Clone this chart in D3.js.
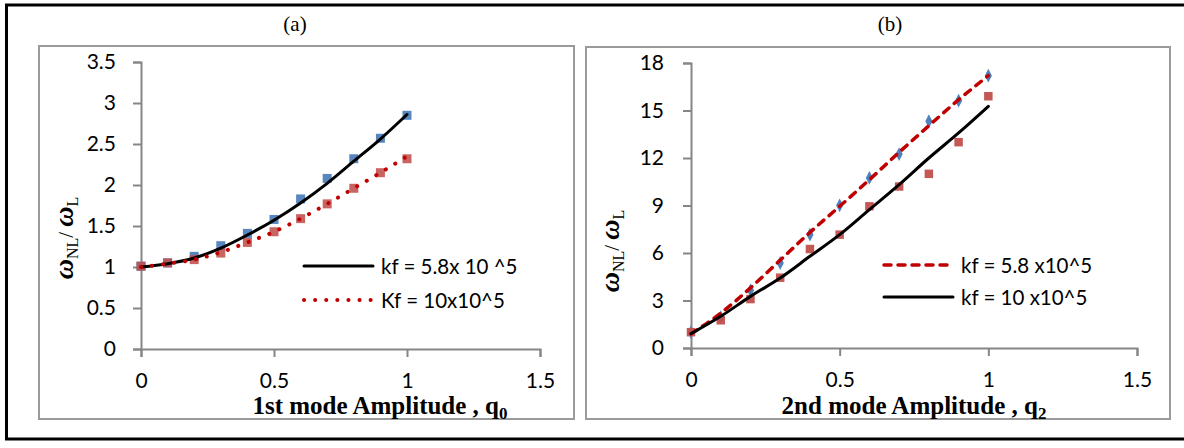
<!DOCTYPE html>
<meta charset="utf-8">
<html>
<head>
<script src="https://d3js.org/d3.v7.min.js"></script>
<style>
  body { margin: 0; background: #fff; }
  .tick-lab { font-family: Lato, "Open Sans", sans-serif; font-size: 21px; fill: #000; }
  .leg { font-family: Lato, "Open Sans", sans-serif; font-size: 20.5px; fill: #000; }
  .ttl { font-family: "Liberation Serif", "Times New Roman", serif; font-size: 21px; fill: #000; }
  .xlab { font-family: "Liberation Serif", "Times New Roman", serif; font-size: 25px; font-weight: bold; fill: #000; }
  .ylab { font-family: "Liberation Serif", "Times New Roman", serif; fill: #000; }
</style>
</head>
<body>
<div id="chart"></div>
<script>

// amplitudes (x values) shared by both panels
var amp = [0, 0.1, 0.2, 0.3, 0.4, 0.5, 0.6, 0.7, 0.8, 0.9, 1.0];
var xTicks = [0, 0.5, 1, 1.5];

// panel (a) - 1st mode
var aTicksY = [0, 0.5, 1, 1.5, 2, 2.5, 3, 3.5];
var aBlue = [1.01, 1.05, 1.13, 1.26, 1.41, 1.58, 1.83, 2.08, 2.32, 2.57, 2.85];
var aRed  = [1.01, 1.05, 1.09, 1.17, 1.30, 1.43, 1.59, 1.77, 1.96, 2.15, 2.32];
var aFitSolid  = [1.00, 1.04, 1.11, 1.23, 1.39, 1.57, 1.78, 2.02, 2.29, 2.56, 2.86];
var aFitDotted = [1.00, 1.04, 1.09, 1.18, 1.30, 1.43, 1.59, 1.77, 1.96, 2.15, 2.35];

// panel (b) - 2nd mode
var bTicksY = [0, 3, 6, 9, 12, 15, 18];
var bBlue = [1.0, 1.95, 3.64, 5.37, 7.16, 9.01, 10.74, 12.25, 14.32, 15.62, 17.2];
var bRed  = [1.0, 1.75, 3.09, 4.44, 6.25, 7.16, 8.95, 10.2, 11.0, 13.0, 15.9];
var bFitDashed = [0.9, 2.2, 3.8, 5.55, 7.3, 8.95, 10.63, 12.36, 14.04, 15.68, 17.2];
var bFitSolid  = [0.9, 2.0, 3.26, 4.42, 5.79, 7.16, 8.74, 10.32, 12.0, 13.58, 15.26];

var W = 1184, H = 448;
var svg = d3.select("#chart").append("svg").attr("width", W).attr("height", H);

var axisCol = "#868686";
var blue = "#4F81BD", redMk = "#C0504D", redLn = "#C00000";

// outer frame
svg.append("rect").attr("x", 6.5).attr("y", 5).attr("width", 1185).attr("height", 434)
  .attr("fill", "none").attr("stroke", "#000").attr("stroke-width", 3);

function panel(cfg) {
  var g = svg.append("g");
  g.append("rect").attr("x", cfg.box[0]).attr("y", cfg.box[1])
    .attr("width", cfg.box[2] - cfg.box[0]).attr("height", cfg.box[3] - cfg.box[1])
    .attr("fill", "none").attr("stroke", "#9a9a9a").attr("stroke-width", 2);

  var x = d3.scaleLinear().domain([0, 1.5]).range(cfg.xr);
  var y = d3.scaleLinear().domain(cfg.yd).range(cfg.yr);

  var ax = g.append("g").attr("transform", "translate(0," + cfg.yr[0] + ")")
    .call(d3.axisBottom(x).tickValues(xTicks).tickSize(8).tickPadding(16).tickFormat(d3.format("")));
  var ay = g.append("g").attr("transform", "translate(" + cfg.xr[0] + ",0)")
    .call(d3.axisLeft(y).tickValues(cfg.ticksY).tickSize(8).tickPadding(cfg.pad).tickFormat(d3.format("")));
  [ax, ay].forEach(function(a) {
    a.attr("font-size", null).attr("font-family", null);
    a.select(".domain").attr("stroke", axisCol).attr("stroke-width", 2);
    a.selectAll(".tick line").attr("stroke", axisCol).attr("stroke-width", 2);
    a.selectAll(".tick text").attr("class", "tick-lab");
  });

  // markers
  cfg.markers.forEach(function(m) {
    var pts = amp.map(function(a, i) { return [a, m.vals[i]]; });
    var sym = d3.symbol().type(m.shape).size(m.size);
    g.selectAll(null).data(pts).enter().append("path")
      .attr("d", sym)
      .attr("transform", function(d) {
        return "translate(" + x(d[0]) + "," + y(d[1]) + ")" + (m.shape === d3.symbolDiamond ? " scale(0.9,1)" : "");
      })
      .attr("fill", m.color).attr("fill-opacity", m.op);
  });

  // fitted curves
  var line = d3.line().x(function(d) { return x(d[0]); }).y(function(d) { return y(d[1]); })
    .curve(d3.curveMonotoneX);
  cfg.lines.forEach(function(l) {
    var pts = amp.map(function(a, i) { return [a, l.vals[i]]; });
    var p = g.append("path").datum(pts).attr("d", line).attr("fill", "none")
      .attr("stroke", l.color).attr("stroke-width", l.w).attr("stroke-linecap", "round");
    if (l.dash) p.attr("stroke-dasharray", l.dash);
  });

  // legend
  cfg.lines.forEach(function(l, i) {
    var ly = cfg.leg[1] + i * cfg.legGap;
    var s = g.append("line").attr("x1", cfg.leg[0]).attr("x2", cfg.leg[0] + 69)
      .attr("y1", ly).attr("y2", ly)
      .attr("stroke", l.color).attr("stroke-width", l.w).attr("stroke-linecap", "round");
    if (l.dash) s.attr("stroke-dasharray", l.dash);
    g.append("text").attr("class", "leg").attr("x", cfg.leg[0] + 77).attr("y", ly + 7.5).text(l.name);
  });

  // title
  g.append("text").attr("class", "ttl").attr("x", cfg.title[0]).attr("y", cfg.title[1])
    .attr("text-anchor", "middle").text(cfg.titleText);

  // x label
  var xl = g.append("text").attr("class", "xlab").attr("x", cfg.xlab[0]).attr("y", cfg.xlab[1])
    .attr("text-anchor", "middle");
  xl.append("tspan").text(cfg.xlabText);
  xl.append("tspan").attr("font-size", "17px").attr("dy", 5).text(cfg.xsub);

  // y label
  var yl = g.append("text").attr("class", "ylab")
    .attr("transform", "translate(" + cfg.ylab[0] + "," + cfg.ylab[1] + ") rotate(-90)")
    .attr("text-anchor", "middle");
  yl.append("tspan").attr("font-size", "28px").attr("font-weight", "bold").attr("font-style", "italic").text("\u03c9");
  yl.append("tspan").attr("font-size", "16px").attr("dy", 5).text("NL");
  yl.append("tspan").attr("font-size", "21px").attr("dy", -5).text("/ ");
  yl.append("tspan").attr("font-size", "28px").attr("font-weight", "bold").attr("font-style", "italic").text("\u03c9");
  yl.append("tspan").attr("font-size", "16px").attr("dy", 5).text("L");
}

panel({
  box: [39, 46, 574, 419],
  xr: [141, 540], yd: [0, 3.5], yr: [349, 62],
  ticksY: aTicksY, pad: 17,
  markers: [
    { vals: aBlue, color: blue, shape: d3.symbolSquare, size: 81, op: 0.95 },
    { vals: aRed, color: redMk, shape: d3.symbolSquare, size: 81, op: 0.88 }
  ],
  lines: [
    { vals: aFitSolid, color: "#000", w: 3, dash: null, name: "kf = 5.8x 10 ^5" },
    { vals: aFitDotted, color: redLn, w: 4, dash: "0.1,11", name: "Kf = 10x10^5" }
  ],
  leg: [304, 266], legGap: 34,
  title: [295, 31], titleText: "(a)",
  xlab: [380, 414], xlabText: "1st mode Amplitude , q", xsub: "0",
  ylab: [73, 238]
});

panel({
  box: [586, 47, 1170, 419],
  xr: [691, 1137], yd: [0, 18], yr: [348, 63],
  ticksY: bTicksY, pad: 19,
  markers: [
    { vals: bBlue, color: blue, shape: d3.symbolDiamond, size: 55, op: 1 },
    { vals: bRed, color: redMk, shape: d3.symbolSquare, size: 72, op: 0.95 }
  ],
  lines: [
    { vals: bFitDashed, color: redLn, w: 3.5, dash: "7,7", name: "kf = 5.8 x10^5" },
    { vals: bFitSolid, color: "#000", w: 3, dash: null, name: "kf = 10 x10^5" }
  ],
  leg: [884, 265], legGap: 32,
  title: [890, 31], titleText: "(b)",
  xlab: [914, 414], xlabText: "2nd mode Amplitude , q", xsub: "2",
  ylab: [619, 251]
});

</script>
</body>
</html>
